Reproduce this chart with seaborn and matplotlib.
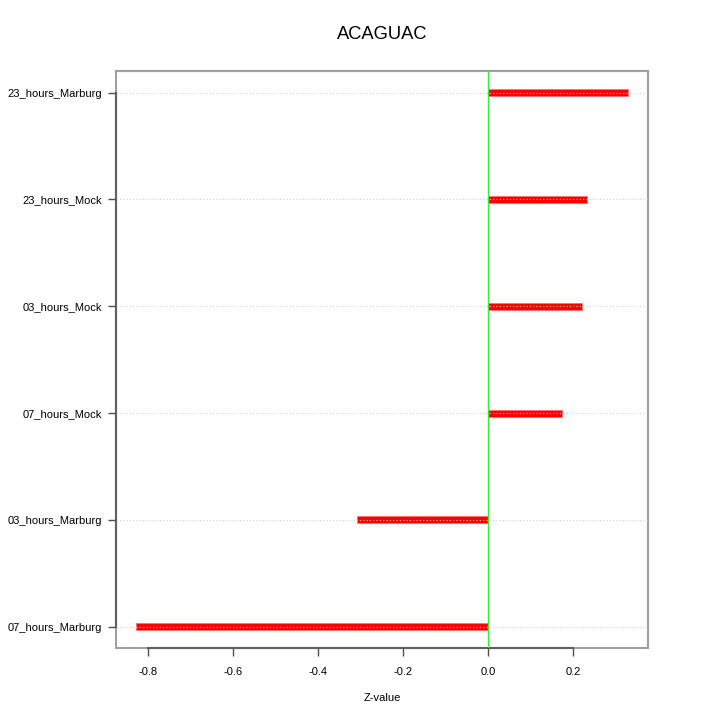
import numpy as np
import pandas as pd
import matplotlib
matplotlib.use('Agg')
import matplotlib.pyplot as plt
import seaborn as sns

# 데이터
samples = ['23_hours_Marburg', '23_hours_Mock', '03_hours_Mock',
           '07_hours_Mock', '03_hours_Marburg', '07_hours_Marburg']
zvalues = [0.329, 0.233, 0.221, 0.174, -0.308, -0.828]
xticks = [-0.8, -0.6, -0.4, -0.2, 0.0, 0.2]

df = pd.DataFrame({'sample': samples, 'z': zvalues})

sns.set_style('white')
plt.rcParams['font.family'] = ['Liberation Sans', 'DejaVu Sans']
plt.rcParams['text.color'] = 'black'
plt.rcParams['axes.labelcolor'] = 'black'

fig = plt.figure(figsize=(7.2, 7.2), dpi=100)
ax = fig.add_axes([0.161, 0.1, 0.739, 0.801])

sns.barplot(data=df, x='z', y='sample', order=samples, orient='h',
            color='red', width=0.065, saturation=1, ax=ax,
            edgecolor='#ff7070', linewidth=0.6)

ax.axvline(0, color='#33ee33', lw=1, zorder=4)

ax.set_xlim(-0.875, 0.376)
ax.set_ylim(len(samples) - 1 + 0.2, -0.2)
ax.set_xticks(xticks)
ax.set_xticklabels(['%.1f' % v for v in xticks])

# 점선 그리드 (막대 위에)
ax.set_axisbelow(False)
ax.grid(axis='y', color='#cccccc', linestyle=(0, (1, 2)), linewidth=0.8)
ax.grid(axis='x', visible=False)

# 테두리: 연한 상자 + 진한 축선
ax.plot([0, 1, 1, 0, 0], [0, 0, 1, 1, 0], transform=ax.transAxes,
        color='#a0a0a0', lw=1.5, zorder=0, clip_on=False)
for s in ax.spines.values():
    s.set_color('#a0a0a0')
    s.set_linewidth(1.5)
ax.spines['bottom'].set_color('#606060')
ax.spines['bottom'].set_bounds(xticks[0], xticks[-1])
ax.spines['left'].set_color('#606060')
ax.spines['left'].set_bounds(0, len(samples) - 1)

ax.tick_params(axis='both', direction='out', length=6, width=1,
               color='#505050', labelcolor='black', labelsize=8, pad=4,
               left=True, bottom=True)
ax.tick_params(axis='x', pad=8)

ax.set_xlabel('Z-value', fontsize=8, labelpad=11)
ax.set_ylabel('')
ax.set_title('ACAGUAC', fontsize=13.2, pad=23, color='black')

plt.savefig('out.png', dpi=100)
